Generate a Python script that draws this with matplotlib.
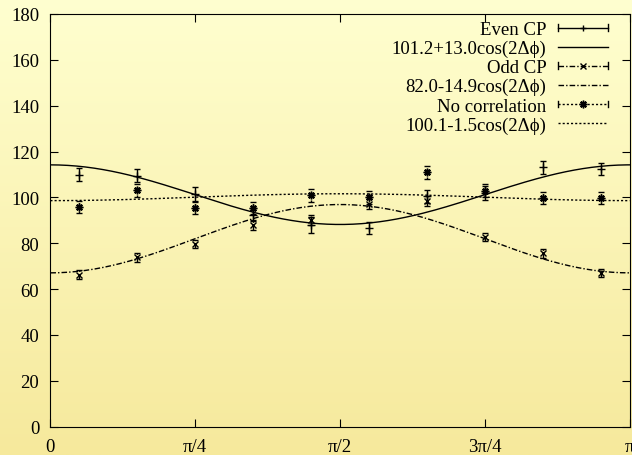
import numpy as np
import matplotlib
matplotlib.use('Agg')
import matplotlib.pyplot as plt
from matplotlib.lines import Line2D
from matplotlib.legend_handler import HandlerBase
from matplotlib.colors import LinearSegmentedColormap

# ---------------- data ----------------
phi_over_pi = [0.05, 0.15, 0.25, 0.35, 0.45, 0.55, 0.65, 0.75, 0.85, 0.95]

even_y = [109.9, 109.5, 101.5, 92.5, 88.0, 86.5, 100.5, 102.0, 113.1, 112.4]
even_err = [2.8, 2.9, 2.9, 3.0, 3.5, 2.6, 2.9, 3.0, 2.9, 2.8]
odd_y = [66.3, 73.9, 79.7, 87.9, 90.3, 97.1, 98.5, 82.7, 75.6, 67.0]
odd_err = [1.9, 1.9, 1.9, 2.2, 2.2, 2.2, 2.2, 1.9, 1.9, 1.8]
nc_y = [95.9, 103.2, 95.3, 95.3, 101.0, 100.0, 110.9, 103.0, 99.7, 99.6]
nc_err = [2.7, 2.8, 2.7, 2.7, 2.8, 2.8, 2.7, 2.8, 2.7, 2.6]

even_fit = (101.2, 13.0)
odd_fit = (82.0, -14.9)
nc_fit = (100.1, -1.5)

labels = ["Even CP", "101.2+13.0cos(2\u0394\u03d5)",
          "Odd CP", "82.0-14.9cos(2\u0394\u03d5)",
          "No correlation", "100.1-1.5cos(2\u0394\u03d5)"]

xtick_vals = [0, 0.25, 0.5, 0.75, 1.0]
xtick_labels = ["0", "\u03c0/4", "\u03c0/2", "3\u03c0/4", "\u03c0"]
ytick_vals = [0, 20, 40, 60, 80, 100, 120, 140, 160, 180]

# ---------------- style ----------------
FS = 13.5
plt.rcParams['font.family'] = ['Liberation Serif', 'DejaVu Serif']
plt.rcParams['font.size'] = FS

W, H = 632, 456
fig = plt.figure(figsize=(W / 100, H / 100), dpi=100)

# background gradient
bg = fig.add_axes([0, 0, 1, 1], zorder=-10)
cmap = LinearSegmentedColormap.from_list('bg', ['#FFFFD0', '#F6E99C'])
grad = np.linspace(0, 1, 256).reshape(-1, 1)
bg.imshow(grad, aspect='auto', cmap=cmap, extent=[0, 1, 0, 1], origin='upper')
bg.set_axis_off()

ax = fig.add_axes([50.4 / W, 1 - 427.7 / H, (629.6 - 50.4) / W, (427.7 - 15.0) / H])
ax.set_facecolor('none')

x = np.array(phi_over_pi) * np.pi
xs = np.linspace(0, np.pi, 200)

LS_ODD = (0, (4, 1.5, 1, 1.5))
LS_NC = (0, (1.5, 1.5))
STAR = (8, 2, 0)

# fits
ax.plot(xs, even_fit[0] + even_fit[1] * np.cos(2 * xs), color='k', lw=1.0, ls='-')
ax.plot(xs, odd_fit[0] + odd_fit[1] * np.cos(2 * xs), color='k', lw=1.0, ls=LS_ODD)
ax.plot(xs, nc_fit[0] + nc_fit[1] * np.cos(2 * xs), color='k', lw=1.0, ls=LS_NC)

# data
eb1 = ax.errorbar(x, even_y, yerr=even_err, fmt='none', ecolor='k',
                  capsize=2.2, capthick=1.0, elinewidth=1.0)
ax.plot(x, even_y, ls='none', marker='+', color='k', ms=6, mew=1.0)
eb2 = ax.errorbar(x, odd_y, yerr=odd_err, fmt='none', ecolor='k',
                  capsize=2.2, capthick=1.0, elinewidth=1.0)
ax.plot(x, odd_y, ls='none', marker='x', color='k', ms=5, mew=1.0)
eb2[2][0].set_linestyle(LS_ODD)
eb3 = ax.errorbar(x, nc_y, yerr=nc_err, fmt='none', ecolor='k',
                  capsize=2.2, capthick=1.0, elinewidth=1.0)
ax.plot(x, nc_y, ls='none', marker=STAR, color='k', ms=5.5, mew=1.1)
eb3[2][0].set_linestyle(LS_NC)
for cl in list(eb2[1]) + list(eb3[1]):
    cl.set_color('#444444')

ax.set_xlim(0, np.pi)
ax.set_ylim(0, 180)
ax.set_xticks(np.array(xtick_vals) * np.pi)
ax.set_xticklabels(xtick_labels)
ax.set_yticks(ytick_vals)
ax.tick_params(direction='in', length=6, width=0.8, top=True, right=True,
               labelsize=FS)
ax.tick_params(axis='y', pad=8)
ax.tick_params(axis='x', pad=8)
for s in ax.spines.values():
    s.set_linewidth(0.8)


# ---------------- legend ----------------
class GnuErrHandler(HandlerBase):
    def __init__(self, ls, marker, ms, mew):
        super().__init__()
        self.ls, self.marker, self.ms, self.mew = ls, marker, ms, mew

    def create_artists(self, legend, orig_handle, xdescent, ydescent, width,
                       height, fontsize, trans):
        y = height / 2 - ydescent
        x0, x1 = -xdescent, width - xdescent
        c = 0.25 * height
        arts = [Line2D([x0, x1], [y, y], color='k', lw=1.0, ls=self.ls),
                Line2D([x0, x0], [y - c, y + c], color='k', lw=1.0),
                Line2D([x1, x1], [y - c, y + c], color='k', lw=1.0),
                Line2D([(x0 + x1) / 2], [y], marker=self.marker, ms=self.ms,
                       mew=self.mew, color='k', ls='none')]
        for a in arts:
            a.set_transform(trans)
        return arts


h_even = Line2D([], [], color='k')
h_odd = Line2D([], [], color='k')
h_nc = Line2D([], [], color='k')
f_even = Line2D([], [], color='k', lw=1.0, ls='-')
f_odd = Line2D([], [], color='k', lw=1.0, ls=LS_ODD)
f_nc = Line2D([], [], color='k', lw=1.0, ls=LS_NC)

handles = [h_even, f_even, h_odd, f_odd, h_nc, f_nc]
hmap = {h_even: GnuErrHandler('-', '+', 5, 1.0),
        h_odd: GnuErrHandler(LS_ODD, 'x', 4.5, 1.0),
        h_nc: GnuErrHandler(LS_NC, STAR, 5.5, 1.1)}
leg = ax.legend(handles, labels, handler_map=hmap, loc='upper right',
                bbox_to_anchor=(607.7 / W, 1 - 22 / H),
                bbox_transform=fig.transFigure,
                frameon=False, markerfirst=False, handlelength=50 / (FS * 100 / 72),
                handletextpad=0.6, labelspacing=0.1, borderpad=0,
                borderaxespad=0, fontsize=FS)

fig.savefig('out.png', dpi=100)
